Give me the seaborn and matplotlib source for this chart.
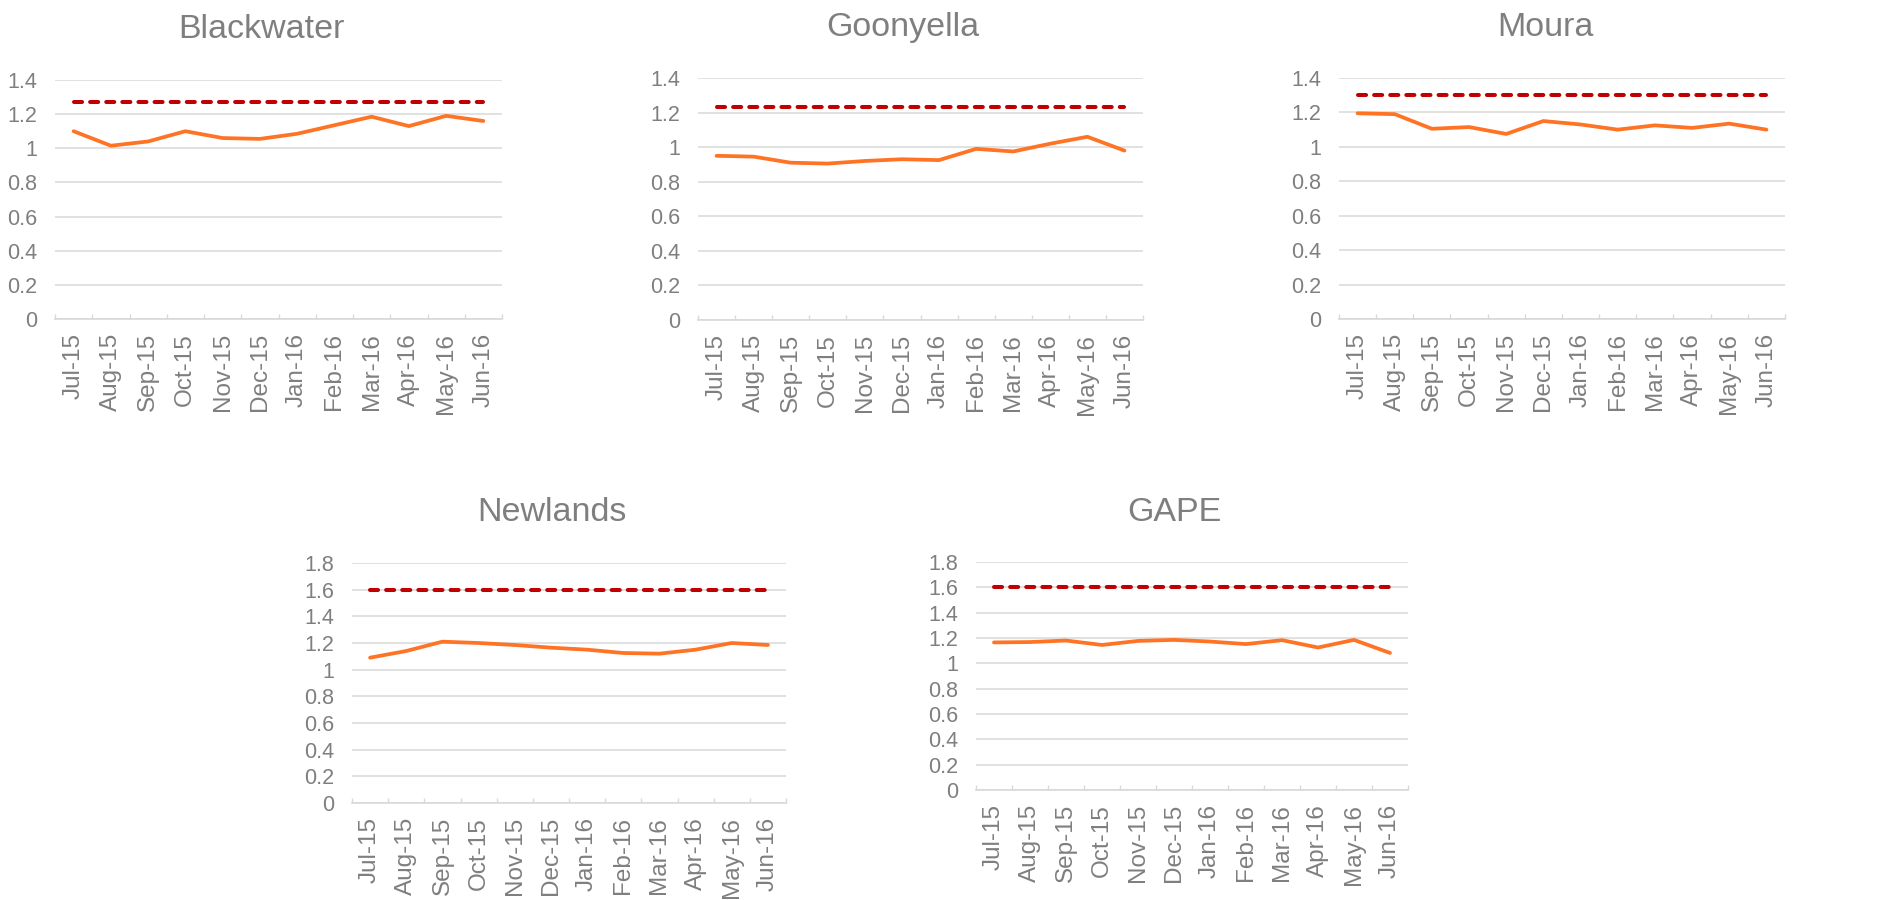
import numpy as np
import pandas as pd
import matplotlib
matplotlib.use("Agg")
import matplotlib.pyplot as plt
from matplotlib.ticker import FixedLocator, FuncFormatter
import seaborn as sns

# Months shown on every panel
months = ["Jul-15", "Aug-15", "Sep-15", "Oct-15", "Nov-15", "Dec-15",
          "Jan-16", "Feb-16", "Mar-16", "Apr-16", "May-16", "Jun-16"]

# Monthly ratio per system
blackwater = [1.10, 1.015, 1.04, 1.10, 1.06, 1.055, 1.085, 1.135, 1.185, 1.13, 1.19, 1.16]
goonyella = [0.95, 0.945, 0.91, 0.905, 0.92, 0.93, 0.925, 0.99, 0.975, 1.02, 1.06, 0.98]
moura = [1.195, 1.19, 1.105, 1.115, 1.075, 1.15, 1.13, 1.10, 1.125, 1.11, 1.135, 1.10]
newlands = [1.09, 1.14, 1.21, 1.20, 1.185, 1.165, 1.15, 1.125, 1.12, 1.15, 1.20, 1.185]
gape = [1.165, 1.168, 1.18, 1.145, 1.177, 1.185, 1.172, 1.152, 1.183, 1.125, 1.185, 1.082]

# Target level per system
targets = {"Blackwater": 1.27, "Goonyella": 1.23, "Moura": 1.30,
           "Newlands": 1.60, "GAPE": 1.60}

# Y-axis ticks for the two rows
ticks_top = [0, 0.2, 0.4, 0.6, 0.8, 1.0, 1.2, 1.4]
ticks_bottom = [0, 0.2, 0.4, 0.6, 0.8, 1.0, 1.2, 1.4, 1.6, 1.8]

sns.set_style("white")
plt.rcParams["font.family"] = ["Liberation Sans", "DejaVu Sans"]

W, H = 1902, 900
fig = plt.figure(figsize=(W / 100, H / 100), dpi=100)

GREY = "#7f7f7f"
GRID = "#d9d9d9"
ORANGE = "#ff7324"
RED = "#c00000"

# name, series, y ticks, axes box (left, top, right, bottom in px), title (x, baseline in px)
panels = [
    ("Blackwater", blackwater, ticks_top, (55, 80, 502, 319), (261, 38)),
    ("Goonyella", goonyella, ticks_top, (698, 78, 1143, 320), (903, 36)),
    ("Moura", moura, ticks_top, (1339, 78, 1785, 319), (1545, 36)),
    ("Newlands", newlands, ticks_bottom, (352, 563, 786, 803), (552, 521)),
    ("GAPE", gape, ticks_bottom, (976, 562, 1408, 790), (1174, 521)),
]

for name, values, yt, (l, t, r, b), (tx, ty) in panels:
    ax = fig.add_axes([l / W, 1 - b / H, (r - l) / W, (b - t) / H])
    df = pd.DataFrame({"x": np.arange(len(months)), "value": values,
                       "target": [targets[name]] * len(months)})
    sns.lineplot(data=df, x="x", y="value", ax=ax, color=ORANGE,
                 linewidth=2.7, solid_capstyle="round", zorder=3)
    sns.lineplot(data=df, x="x", y="target", ax=ax, color=RED,
                 linewidth=2.9, dashes=False, zorder=4)
    tline = ax.lines[-1]
    tline.set_dashes((2.0, 2.0))
    tline.set_dash_capstyle("round")

    ax.set_xlim(-0.5, len(months) - 0.5)
    ax.set_ylim(yt[0], yt[-1])
    ax.set_xlabel("")
    ax.set_ylabel("")

    ax.set_yticks(yt)
    ax.yaxis.set_major_formatter(FuncFormatter(lambda v, p: f"{v:g}"))
    ax.yaxis.grid(True, color=GRID, linewidth=1.1)
    ax.set_axisbelow(True)

    ax.set_xticks(np.arange(len(months)))
    ax.set_xticklabels(months, rotation=90)
    ax.xaxis.set_minor_locator(FixedLocator(np.arange(-0.5, len(months), 1.0)))
    ax.tick_params(axis="x", which="major", length=0, pad=10,
                   labelsize=17.5, labelcolor=GREY)
    ax.tick_params(axis="x", which="minor", direction="in", length=3.5,
                   width=1.0, color=GRID, bottom=True)
    ax.tick_params(axis="y", length=0, pad=13, labelsize=15.5, labelcolor=GREY)

    for side in ("left", "right", "top"):
        ax.spines[side].set_visible(False)
    ax.spines["bottom"].set_color(GRID)
    ax.spines["bottom"].set_linewidth(1.2)

    fig.text(tx / W, 1 - ty / H, name, ha="center", va="baseline",
             fontsize=24.5, color=GREY)

fig.savefig("out.png", dpi=100, facecolor="white")
